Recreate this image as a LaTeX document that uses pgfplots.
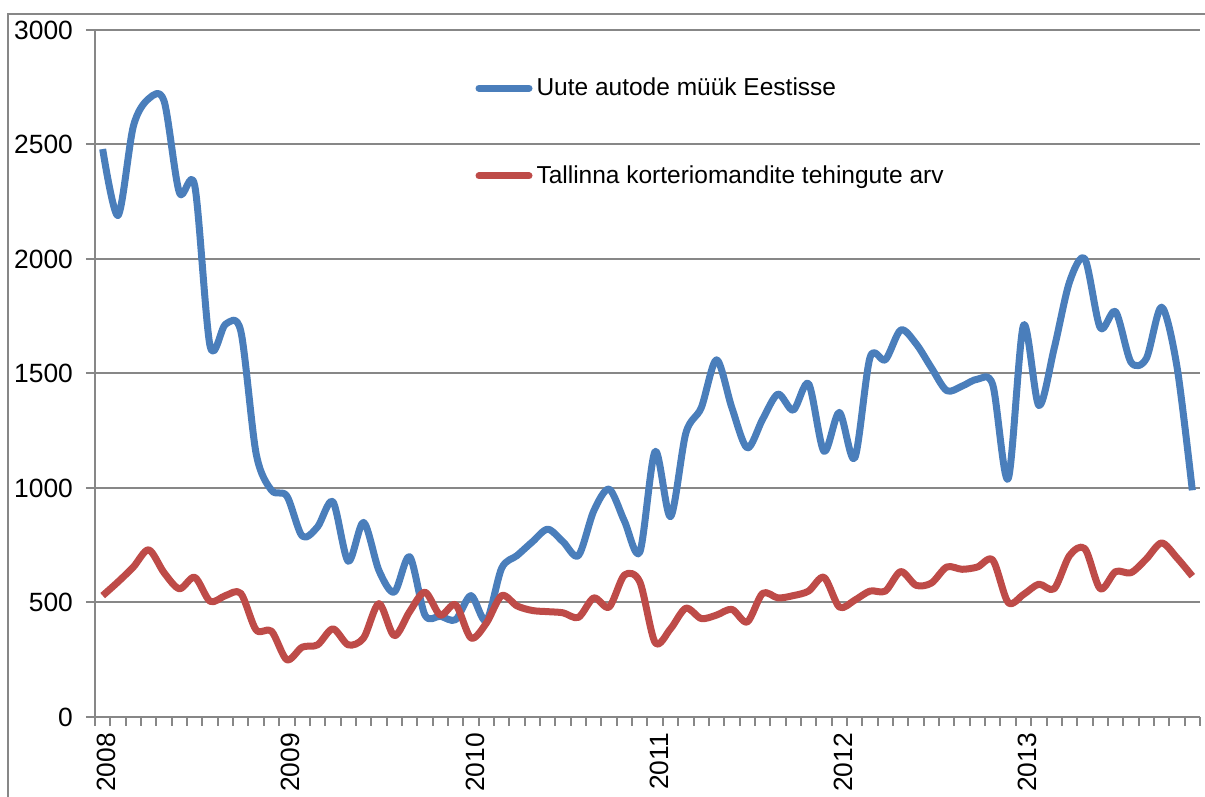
\documentclass[border=0pt]{standalone}
\usepackage{fontspec}
\setmainfont{Liberation Sans}
\usepackage{pgfplots}
\pgfplotsset{compat=1.18}
\usepackage{pgfplotstable}
\definecolor{blueL}{HTML}{4A7EBB}
\definecolor{redL}{HTML}{BE4B48}
\definecolor{gridG}{HTML}{878787}
\pgfplotstableread{
i cars flats
0 2480 530
1 2190 590
2 2580 655
3 2700 730
4 2690 630
5 2290 560
6 2320 610
7 1620 505
8 1715 530
9 1685 540
10 1150 380
11 990 375
12 965 250
13 790 305
14 830 315
15 940 385
16 680 315
17 850 345
18 640 495
19 545 355
20 700 460
21 445 545
22 440 445
23 425 490
24 530 345
25 420 410
26 650 530
27 705 485
28 765 465
29 820 460
30 765 455
31 705 435
32 900 520
33 995 480
34 855 620
35 720 590
36 1160 325
37 875 385
38 1240 475
39 1350 430
40 1560 445
41 1350 470
42 1175 415
43 1300 540
44 1410 520
45 1340 530
46 1455 550
47 1160 610
48 1330 480
49 1130 510
50 1570 550
51 1560 550
52 1690 635
53 1630 575
54 1525 585
55 1425 655
56 1445 645
57 1475 655
58 1450 685
59 1040 500
60 1710 535
61 1360 580
62 1610 560
63 1900 705
64 2000 735
65 1700 560
66 1770 635
67 1550 630
68 1565 690
69 1790 760
70 1530 695
71 990 615
}\datatable
\begin{document}
\begin{tikzpicture}
\begin{axis}[
  at={(47.5pt,40pt)}, anchor=south west,
  scale only axis, width=552.5pt, height=343.5pt,
  xmin=-0.5, xmax=71.5, ymin=0, ymax=3000,
  axis x line*=bottom, axis y line*=left,
  axis line style={gridG, line width=1pt},
  ytick={0,500,...,3000},
  ymajorgrids, major grid style={gridG, line width=1pt},
  xtick={-0.5,0.5,...,71.5}, xticklabels={},
  extra x ticks={0,12,24,36,48,60},
  extra x tick labels={2008,2009,2010,2011,2012,2013},
  extra x tick style={tick style={draw=none}, xticklabel style={rotate=90, anchor=east, yshift=-2pt}},
  tick align=outside, major tick length=4.5pt,
  tick style={gridG, line width=1pt},
  tick label style={font=\fontsize{13.2}{15}\selectfont},
  yticklabel style={xshift=-3pt},
  /pgf/number format/1000 sep={},
  /pgf/number format/assume math mode=true,
  legend style={at={(0.344,0.8515)}, anchor=west, draw=none, fill=none, inner sep=0pt, row sep=29.5pt, font=\fontsize{12.25}{14}\selectfont},
  legend cell align=left,
  legend image code/.code={\draw[#1, line cap=round] (1.75pt,0pt) -- (26.75pt,0pt);},
  clip=false,
]
\addplot[blueL, line width=3.5pt, smooth, tension=0.5, line join=round] table[x=i, y=cars] {\datatable};
\addlegendentry{Uute autode müük Eestisse}
\addplot[redL, line width=3.5pt, smooth, tension=0.5, line join=round] table[x=i, y=flats] {\datatable};
\addlegendentry{Tallinna korteriomandite tehingute arv}
\end{axis}
\draw[gridG, line width=1pt] (4pt,-20pt) rectangle (640pt,391.5pt);
\pgfresetboundingbox
\useasboundingbox (0,0) rectangle (602.5pt,398.5pt);
\end{tikzpicture}
\end{document}
